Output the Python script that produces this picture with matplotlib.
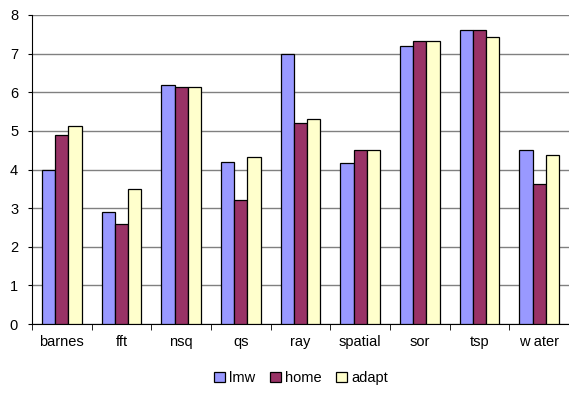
import matplotlib
matplotlib.use("Agg")
import matplotlib.pyplot as plt
import numpy as np

categories = ["barnes", "fft", "nsq", "qs", "ray", "spatial", "sor", "tsp", "w ater"]
lmw = [4.0, 2.9, 6.2, 4.2, 7.0, 4.18, 7.19, 7.61, 4.5]
home = [4.9, 2.6, 6.13, 3.2, 5.2, 4.5, 7.33, 7.61, 3.62]
adapt = [5.12, 3.5, 6.13, 4.32, 5.32, 4.5, 7.33, 7.42, 4.38]
series_names = ["lmw", "home", "adapt"]
colors = ["#9999FF", "#993366", "#FFFFCC"]

plt.rcParams['font.family'] = ['Liberation Sans', 'DejaVu Sans']
fig = plt.figure(figsize=(5.69, 4.09), dpi=100)
ax = fig.add_axes([32/569, 1-324/409, 537/569, 309/409])

x = np.arange(len(categories))
w = 0.22
for i, (vals, name, c) in enumerate(zip([lmw, home, adapt], series_names, colors)):
    ax.bar(x + (i-1)*w, vals, width=w, color=c, edgecolor="black", linewidth=0.9, label=name, zorder=3)

ax.set_xlim(-0.5, len(categories)-0.5)
ax.set_ylim(0, 8)
ax.set_yticks(range(0, 9))
ax.yaxis.grid(True, color="#808080", linewidth=1.0, zorder=0)
for s in ["top", "right"]:
    ax.spines[s].set_visible(False)
ax.spines["left"].set_color("black")
ax.spines["bottom"].set_color("black")
ax.set_xticks(x)
ax.set_xticklabels(categories, fontsize=10.5)
ax.tick_params(axis="x", which="major", length=0, pad=8)
ax.set_xticks(np.arange(-0.5, len(categories), 1), minor=True)
ax.tick_params(axis="x", which="minor", length=4, color="black", direction="out")
ax.tick_params(axis="y", length=3, color="black", labelsize=10.5, pad=7)

fig.legend(loc="center", bbox_to_anchor=(301/569, 1-378/409), ncol=3, frameon=False,
           fontsize=10.5, handlelength=0.75, handleheight=0.75, handletextpad=0.3, columnspacing=1.0)
fig.savefig("out.png", dpi=100)
